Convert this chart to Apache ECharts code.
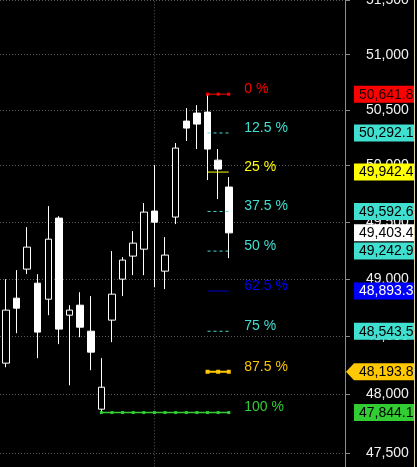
<!DOCTYPE html>
<html><head><meta charset="utf-8">
<script src="https://cdn.jsdelivr.net/npm/echarts@6/dist/echarts.min.js"></script>
<style>html,body{margin:0;padding:0;background:#000;}#c{width:417px;height:467px;}</style>
</head><body><div id="c"></div>
<script>
// ---- data ----
const candleIndex = [0,1,2,3,4,5,6,7,8,9,10,11,12,13,14,15,16,17,18,19,20,21];
const opens  = [48268,48831,49085,48962,48822,49534,48683,48770,48544,47873,48640,48997,49199,49260,49596,49067,49543,50399,50471,50480,50049,49809];
const closes = [48727,48744,49278,48536,49348,48562,48727,48579,48363,48061,48866,49164,49313,49587,49498,49208,50157,50336,50372,50148,49969,49403.4];
const lows   = [48233,48527,49041,48311,48683,48432,48078,48492,48207,47844.1,48449,48849,49032,49032,48927,48910,49481,50220,50148,49871,49702,49181];
const highs  = [48997,49076,49454,49041,49640,49551,48770,48883,48849,48311,49243,49190,49419,49667,50005,49366,50202,50516,50543,50641.8,50148,49898];
const fibPct    = ['0 %','12.5 %','25 %','37.5 %','50 %','62.5 %','75 %','87.5 %','100 %'];
const fibValues = [50641.8,50292.1,49942.4,49592.6,49242.9,48893.3,48543.5,48193.8,47844.1];
const fibStart  = [19,19,19,19,19,19,19,19,9];
const fibEnd    = 21;
const lastPrice = 49403.4;
const yTicks = [47000,47500,48000,48500,49000,49500,50000,50500,51000,51500];
const dividerIndex = 14;

// ---- styles ----
const TURQ = '#40e0d0';
const lineStyles = [
  {color:'#ff0000', type:'solid', width:1, sym:3},
  {color:TURQ, type:[3,3], width:1, sym:0},
  {color:'#ffff00', type:'solid', width:1, sym:0},
  {color:TURQ, type:[3,3], width:1, sym:0},
  {color:TURQ, type:[3,3], width:1, sym:0},
  {color:'#0000cd', type:'solid', width:1, sym:0},
  {color:TURQ, type:[3,3], width:1, sym:0},
  {color:'#ffc800', type:'solid', width:2, sym:4},
  {color:'#32cd32', type:'solid', width:1.5, sym:3}
];
const pctColors = ['#ff0000',TURQ,'#ffff00',TURQ,TURQ,'#0000ff',TURQ,'#ffc400','#32cd32'];
const boxColors = ['#ff0000',TURQ,'#ffff00',TURQ,TURQ,'#0000ff',TURQ,'#ffc800','#32cd32','#ffffff'];
const boxText   = ['#1a0000','#000','#000','#000','#000','#fff','#000','#000','#000','#000'];
const FONT = '14px "Liberation Sans", Arial, sans-serif';

const chart = echarts.init(document.getElementById('c'));
const candleData = candleIndex.map((x,i)=>[x, opens[i], closes[i], lows[i], highs[i]]);

const series = [];
series.push({
  type:'line', z:1, silent:true, symbol:'none', animation:false,
  data:[[dividerIndex, yTicks[0]],[dividerIndex, yTicks[yTicks.length-1]]],
  lineStyle:{color:'#5a5a5a', type:[1,2], width:1}
});
series.push({
  type:'candlestick', z:2, barWidth:7, animation:false,
  data:candleData,
  itemStyle:{color:'#000', color0:'#fff', borderColor:'#fff', borderColor0:'#fff', borderWidth:1}
});
fibValues.forEach((v,i)=>{
  const pts = [];
  for (let k=fibStart[i]; k<=fibEnd; k++) pts.push([k, v]);
  const s = lineStyles[i];
  series.push({
    type:'line', z:3, animation:false, silent:true,
    data:pts,
    showSymbol: s.sym>0, symbol:'rect', symbolSize:s.sym||0,
    itemStyle:{color:s.color},
    lineStyle:{color:s.color, type:s.type, width:s.width}
  });
});
const labelData = fibValues.map((v,i)=>[fibEnd, v, i]);
labelData.push([fibEnd, lastPrice, 9]);
series.push({
  type:'custom', z:10, clip:false, animation:false, silent:true,
  data:labelData,
  renderItem:function(params, api){
    const i = api.value(2);
    const val = api.value(1);
    const p = api.coord([api.value(0), val]);
    const cs = params.coordSys;
    const rx = cs.x + cs.width;
    const y = p[1];
    const ch = [];
    if (i < fibPct.length) {
      ch.push({type:'text', style:{text:fibPct[i], x:p[0]+15.5, y:y-5, fill:pctColors[i], font:FONT, align:'left', verticalAlign:'middle'}});
    }
    if (i === 7) {
      ch.push({type:'polygon', shape:{points:[[rx+1,y],[rx+9,y-8.5],[rx+70,y-8.5],[rx+70,y+8.5],[rx+9,y+8.5]]}, style:{fill:boxColors[i]}});
    } else {
      ch.push({type:'rect', shape:{x:rx+9, y:y-8.5, width:61, height:17}, style:{fill:boxColors[i]}});
    }
    const txt = val.toLocaleString('en-US',{minimumFractionDigits:1, maximumFractionDigits:1});
    ch.push({type:'text', style:{text:txt, x:rx+14, y:y+0.5, fill:boxText[i], font:FONT, align:'left', verticalAlign:'middle'}});
    return {type:'group', children:ch};
  }
});

chart.setOption({
  backgroundColor:'#000',
  animation:false,
  grid:{left:0, right:72, top:0, bottom:-45.3, containLabel:false, outerBoundsMode:'none'},
  xAxis:{type:'value', min:-0.55, max:31.95, show:false},
  yAxis:{
    type:'log', logBase:10, position:'right', min:yTicks[0], max:yTicks[yTicks.length-1],
    axisLine:{show:true, onZero:false, lineStyle:{color:'#8c8c8c', width:1}},
    axisTick:{show:true, length:5, lineStyle:{color:'#8c8c8c'}, customValues:yTicks},
    axisLabel:{show:true, margin:21, color:'#f2f2f2', fontSize:14, fontFamily:'"Liberation Sans", Arial, sans-serif',
      customValues:yTicks, formatter:v=>Number(v).toLocaleString('en-US')},
    splitLine:{show:true, lineStyle:{color:'#5a5a5a', type:[1,2], width:1}},
    minorTick:{show:false}, minorSplitLine:{show:false}
  },
  graphic:[
    {type:'rect', z:100, shape:{x:414.5, y:0, width:3, height:467}, style:{fill:'#000'}},
    {type:'line', z:101, shape:{x1:414.5, y1:0, x2:414.5, y2:467}, style:{stroke:'#d8d0a8', lineWidth:1}}
  ],
  series:series
});
</script>
</body></html>
